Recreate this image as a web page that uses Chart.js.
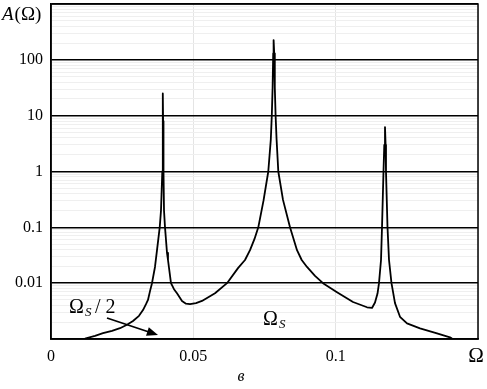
<!DOCTYPE html>
<html>
<head>
<meta charset="utf-8">
<script src="https://cdn.jsdelivr.net/npm/chart.js@4/dist/chart.umd.min.js"></script>
<style>
  html, body { margin: 0; padding: 0; background: #fff; }
  #wrap { width: 487px; height: 389px; }
</style>
</head>
<body>
<div id="wrap"><canvas id="myChart" width="487" height="389"></canvas></div>
<script>
// frequency (Omega) and amplitude A(Omega)
const omega = [
  0.01194, 0.01546, 0.01827, 0.02143, 0.02424, 0.0267, 0.02881, 0.03091, 0.03232, 0.03337,
  0.03407, 0.03478, 0.03548, 0.03653, 0.03724, 0.03819, 0.03864, 0.0391, 0.03924, 0.03931,
  0.03938, 0.03952, 0.0397, 0.04005, 0.04075, 0.0411, 0.04215, 0.04321, 0.04426, 0.04602,
  0.04742, 0.04883, 0.05094, 0.05304, 0.05761, 0.06183, 0.06569, 0.06815, 0.06991, 0.07149,
  0.07282, 0.07465, 0.07633, 0.07721, 0.07756, 0.07785, 0.07806, 0.0782, 0.07841, 0.07862,
  0.0789, 0.07925, 0.07985, 0.0815, 0.08396, 0.08642, 0.08807, 0.08993, 0.09274, 0.09555,
  0.10047, 0.10609, 0.11101, 0.11276, 0.11382, 0.1147, 0.11522, 0.11593, 0.11628, 0.1168,
  0.11708, 0.11733, 0.11754, 0.11768, 0.11821, 0.11874, 0.11961, 0.12084, 0.1226, 0.12506,
  0.12963, 0.1356, 0.14016, 0.14087
];
const amplitude = [
  0.00102, 0.00114, 0.00127, 0.0014, 0.00156, 0.0018, 0.0021, 0.0026, 0.0033, 0.0042,
  0.005, 0.0072, 0.01, 0.0195, 0.039, 0.1, 0.2, 1, 8, 25,
  8, 1, 0.2, 0.1, 0.035, 0.026, 0.01, 0.0078, 0.0066, 0.0048,
  0.0043, 0.0042, 0.0044, 0.0048, 0.0066, 0.01, 0.0186, 0.026, 0.039, 0.062,
  0.1, 0.3, 1, 3.7, 10, 32, 131, 226, 131, 32,
  10, 3.7, 1, 0.31, 0.1, 0.039, 0.026, 0.0195, 0.0135, 0.01,
  0.0069, 0.0046, 0.0037, 0.0036, 0.0045, 0.0065, 0.01, 0.026, 0.1, 1,
  3, 6.25, 3, 1, 0.1, 0.026, 0.01, 0.0044, 0.0025, 0.0019,
  0.00155, 0.00126, 0.00107, 0.00102
];
const yLabels = [0.01, 0.1, 1, 10, 100];
const xLabels = [0, 0.05, 0.1];

const points = omega.map((w, i) => ({ x: w, y: amplitude[i] }));

const serif = '"Liberation Serif", "DejaVu Serif", serif';

// log ticks: 1..9 in every decade, majors get black lines
const logTicks = [];
for (let e = -3; e <= 2; e++) {
  for (let m = 1; m <= 9; m++) logTicks.push(+(m * Math.pow(10, e)).toPrecision(3));
}
logTicks.push(1000);

const isDecade = v => Math.abs(Math.log10(v) - Math.round(Math.log10(v))) < 1e-6;

// extra text, arrow and the box
const annotations = {
  id: 'annotations',
  afterDraw(chart) {
    const c = chart.ctx;
    c.save();
    c.fillStyle = '#000';
    c.strokeStyle = '#000';
    c.textBaseline = 'alphabetic';

    // A(Ω)
    c.textAlign = 'left';
    c.font = 'italic 19px ' + serif;
    c.fillText('A', 2, 20);
    let w = c.measureText('A').width;
    c.font = '19px ' + serif;
    c.fillText('(Ω)', 2 + w + 1, 20);

    // Ω at the end of the x axis
    c.textAlign = 'center';
    c.font = '21px ' + serif;
    c.fillText('Ω', 476, 362);

    // Ωs / 2
    c.textAlign = 'left';
    c.font = '20px ' + serif;
    c.fillText('Ω', 69, 313);
    c.font = 'italic 13px ' + serif;
    c.fillText('S', 85, 316);
    c.font = '20px ' + serif;
    c.fillText('/ 2', 95, 313);

    // arrow
    c.lineWidth = 1.8;
    c.beginPath();
    c.moveTo(107, 318);
    c.lineTo(149, 332);
    c.stroke();
    const ang = Math.atan2(335 - 318, 158 - 107);
    c.beginPath();
    c.moveTo(158, 335);
    c.lineTo(158 - 12 * Math.cos(ang - 0.38), 335 - 12 * Math.sin(ang - 0.38));
    c.lineTo(158 - 12 * Math.cos(ang + 0.38), 335 - 12 * Math.sin(ang + 0.38));
    c.closePath();
    c.fill();

    // Ωs in the middle
    c.font = '20px ' + serif;
    c.fillText('Ω', 263, 325);
    c.font = 'italic 13px ' + serif;
    c.fillText('S', 279, 328);

    // figure letter
    c.textAlign = 'center';
    c.font = 'italic 16px ' + serif;
    c.fillText('в', 241, 381);

    // plot frame
    const a = chart.chartArea;
    c.lineWidth = 1.5;
    c.strokeRect(a.left, a.top, a.right - a.left, a.bottom - a.top);
    c.restore();
  }
};

new Chart(document.getElementById('myChart').getContext('2d'), {
  type: 'line',
  data: {
    datasets: [{
      data: points,
      borderColor: '#000',
      borderWidth: 1.8,
      pointRadius: 0,
      tension: 0,
      fill: false,
      borderJoinStyle: 'round'
    }]
  },
  options: {
    responsive: false,
    animation: false,
    layout: { padding: { top: 4, right: 9, left: 0, bottom: 0 } },
    plugins: { legend: { display: false }, tooltip: { enabled: false } },
    scales: {
      x: {
        type: 'linear',
        min: 0,
        max: 0.15,
        afterFit: s => { s.height = 50; s.paddingLeft = 0; s.paddingRight = 0; },
        afterBuildTicks: s => { s.ticks = [0, 0.05, 0.1, 0.15].map(v => ({ value: v })); },
        ticks: {
          padding: 8,
          color: '#000',
          font: { family: serif, size: 16 },
          maxRotation: 0,
          autoSkip: false,
          callback: v => {
            const hit = xLabels.find(t => Math.abs(t - v) < 1e-9);
            return hit === undefined ? '' : String(hit);
          }
        },
        grid: {
          drawTicks: false,
          color: '#e4e4e4',
          lineWidth: 1
        },
        border: { display: true, color: '#000', width: 1.5 }
      },
      y: {
        type: 'logarithmic',
        min: 0.001,
        max: 1000,
        afterFit: s => { s.width = 51; s.paddingTop = 0; s.paddingBottom = 0; },
        afterBuildTicks: s => { s.ticks = logTicks.map(v => ({ value: v })); },
        ticks: {
          padding: 8,
          color: '#000',
          font: { family: serif, size: 16 },
          autoSkip: false,
          callback: v => {
            const hit = yLabels.find(t => Math.abs(t - v) / t < 1e-6);
            return hit === undefined ? '' : String(hit);
          }
        },
        grid: {
          drawTicks: false,
          color: ctx => (ctx.tick && isDecade(ctx.tick.value)) ? '#000' : '#efefef',
          lineWidth: ctx => (ctx.tick && isDecade(ctx.tick.value)) ? 1.4 : 1
        },
        border: { display: true, color: '#000', width: 1.5 }
      }
    }
  },
  plugins: [annotations]
});
</script>
</body>
</html>
